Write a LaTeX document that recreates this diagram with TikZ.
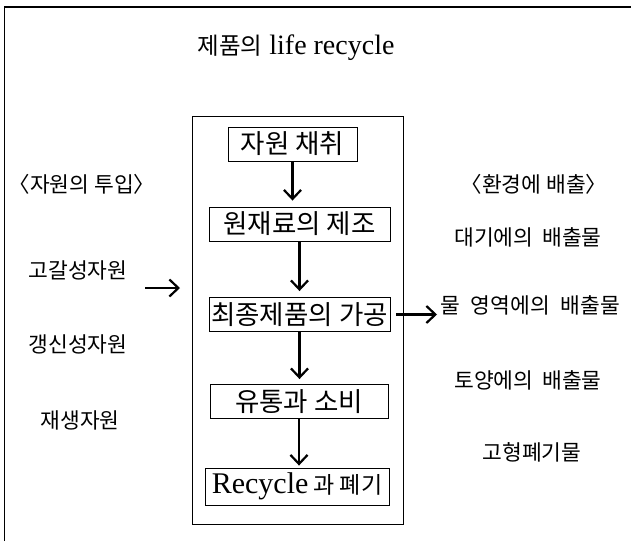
\documentclass[tikz,border=0pt]{standalone}
\usepackage{fontspec}
\setmainfont{Liberation Serif}
\newfontfamily\kr{Noto Sans CJK KR}
\usetikzlibrary{arrows.meta}
\begin{document}
\begin{tikzpicture}[x=1pt,y=-1pt,
  frame/.style={draw, line width=0.8pt},
  stage/.style={draw, line width=0.9pt, minimum height=34pt, inner sep=0pt, font=\kr\fontsize{26.5}{26.5}\selectfont},
  lbl/.style={inner sep=0pt, font=\kr\fontsize{21.5}{21.5}\selectfont},
  flow/.style={line width=2.6pt, -{Straight Barb[length=9pt,width=17pt,line width=2.2pt]}}]
\useasboundingbox (0,0) rectangle (631,541);
% outer frame (only top and left edges are visible)
\coordinate (fa) at (4,541);
\coordinate (fb) at (4,7);
\coordinate (fc) at (631,7);
\draw[line width=1pt] (fa) -- (fb);
\draw[line width=1.6pt] (fb) -- (fc);
% title
\node[inner sep=0pt, font=\fontsize{28}{28}\selectfont] (title) at (296,48) {{\kr\fontsize{23.5}{23.5}\selectfont 제품의} life recycle};
% main box
\node[frame, minimum width=211pt, minimum height=408pt, inner sep=0pt] (main) at (297.5,320) {};
% stages
\node[stage, minimum width=129pt] (s1) at (292.5,144) {자원 채취};
\node[stage, minimum width=181pt] (s2) at (299.5,224) {원재료의 제조};
\node[stage, minimum width=181pt] (s3) at (299.5,314.5) {최종제품의 가공};
\node[stage, minimum width=178pt] (s4) at (299,401.5) {유통과 소비};
\node[stage, minimum width=184pt, minimum height=37pt, font=\kr\fontsize{23}{23}\selectfont] (s5) at (297,486.5) {{\fontsize{30}{30}\selectfont\rmfamily Recycle} 과 폐기};
\draw[flow, shorten >=6pt] (s1) -- (s1 |- s2.north);
\draw[flow, shorten >=6pt] (s2) -- (s2 |- s3.north);
\draw[flow, shorten >=5pt] (s3) -- (s3 |- s4.north);
\draw[flow, shorten >=2pt] (s4) -- (s4 |- s5.north);
% inputs
\node[lbl] (in0) at (82,184) {〈자원의 투입〉};
\node[lbl] (in1) at (78,270) {고갈성자원};
\node[lbl] (in2) at (78,344) {갱신성자원};
\node[lbl] (in3) at (80,420) {재생자원};
\coordinate (ia) at (145,288);
\coordinate (ib) at (180,288);
\draw[flow] (ia) -- (ib);
% outputs
\node[lbl] (out0) at (534,184) {〈환경에 배출〉};
\node[lbl] (out1) at (528,237) {대기에의\hspace{4pt} 배출물};
\node[lbl, anchor=west] (out2) at (440,305) {물\hspace{6pt} 영역에의\hspace{6pt} 배출물};
\node[lbl] (out3) at (528,380) {토양에의\hspace{4pt} 배출물};
\node[lbl] (out4) at (532,452) {고형폐기물};
\draw[flow, shorten <=6pt, shorten >=3pt] (s3.east) -- (s3.east -| out2.west);
\end{tikzpicture}
\end{document}
